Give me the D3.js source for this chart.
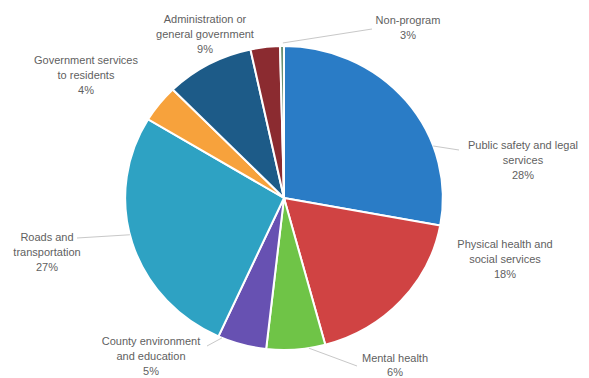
<!DOCTYPE html>
<html>
<head>
<meta charset="utf-8">
<script src="https://cdn.jsdelivr.net/npm/d3@7/dist/d3.min.js"></script>
<style>
  html, body { margin: 0; padding: 0; background: #fff; }
  svg { display: block; }
  text { font-family: "Liberation Sans", Arial, sans-serif; }
</style>
</head>
<body>
<svg id="chart" width="589" height="378"></svg>
<script>
// Budget share by program area (percent), clockwise from 12 o'clock
const categories = [
  "Public safety and legal services",
  "Physical health and social services",
  "Mental health",
  "County environment and education",
  "Roads and transportation",
  "Government services to residents",
  "Administration or general government",
  "Non-program",
  "Other"
];
const shares = [28, 18, 6, 5, 27, 4, 9, 3, 0.4];
const percentLabels = ["28%", "18%", "6%", "5%", "27%", "4%", "9%", "3%", ""];
const labelLines = [
  ["Public safety and legal", "services"],
  ["Physical health and", "social services"],
  ["Mental health"],
  ["County environment", "and education"],
  ["Roads and", "transportation"],
  ["Government services", "to residents"],
  ["Administration or", "general government"],
  ["Non-program"],
  []
];

const colors = ["#2a7cc6", "#d04343", "#6fc447", "#6751b2", "#2ea2c3",
                "#f7a23c", "#1d5b88", "#8b2b30", "#6a9274"];

// Label placement: text centre, first baseline, optional leader (pie angle in degrees -> text end)
const layout = [
  { x: 523, y: 149, leader: { angle: 70, r: 1.0, tx: 459, ty: 150 } },
  { x: 505, y: 248 },
  { x: 395, y: 362, leader: { angle: 171, r: 1.0, tx: 357, ty: 366 } },
  { x: 151, y: 345, leader: { angle: 203, r: 1.0, tx: 207, ty: 346 } },
  { x: 47,  y: 241, leader: { angle: 256, r: 1.0, tx: 77, ty: 238 } },
  { x: 86,  y: 64 },
  { x: 205, y: 23 },
  { x: 408, y: 24, leader: { angle: -0.4, r: 1.02, tx: 372, ty: 29 } },
  null
];

const svg = d3.select("#chart");
const cx = 284, cy = 198, radius = 152, sx = 1.045;

const pie = d3.pie().sort(null).value(d => d.value);
const arcs = pie(categories.map((c, i) => ({ name: c, value: shares[i], i })));
const arc = d3.arc().innerRadius(0).outerRadius(radius);

const g = svg.append("g")
  .attr("transform", `translate(${cx},${cy}) scale(${sx},1)`);

g.selectAll("path.slice")
  .data(arcs)
  .join("path")
  .attr("class", "slice")
  .attr("d", arc)
  .attr("fill", d => colors[d.data.i])
  .attr("stroke", "#ffffff")
  .attr("stroke-width", 2)
  .attr("vector-effect", "non-scaling-stroke");

// Leader lines
const lines = svg.append("g").attr("fill", "none").attr("stroke", "#c8c8c8").attr("stroke-width", 1);
layout.forEach((L, i) => {
  if (!L || !L.leader) return;
  const a = L.leader.angle * Math.PI / 180;
  const px = cx + Math.sin(a) * radius * L.leader.r * sx;
  const py = cy - Math.cos(a) * radius * L.leader.r;
  lines.append("line")
    .attr("x1", px).attr("y1", py)
    .attr("x2", L.leader.tx).attr("y2", L.leader.ty);
});

// Category labels with percentages
const labels = svg.append("g")
  .attr("font-size", 11)
  .attr("fill", "#5f5f5f")
  .attr("text-anchor", "middle");

layout.forEach((L, i) => {
  if (!L) return;
  const t = labels.append("text").attr("x", L.x).attr("y", L.y);
  const rows = labelLines[i].concat([percentLabels[i]]);
  rows.forEach((row, k) => {
    t.append("tspan")
      .attr("x", L.x)
      .attr("dy", k === 0 ? 0 : (i === 2 ? 13.5 : 15))
      .text(row);
  });
});
</script>
</body>
</html>
